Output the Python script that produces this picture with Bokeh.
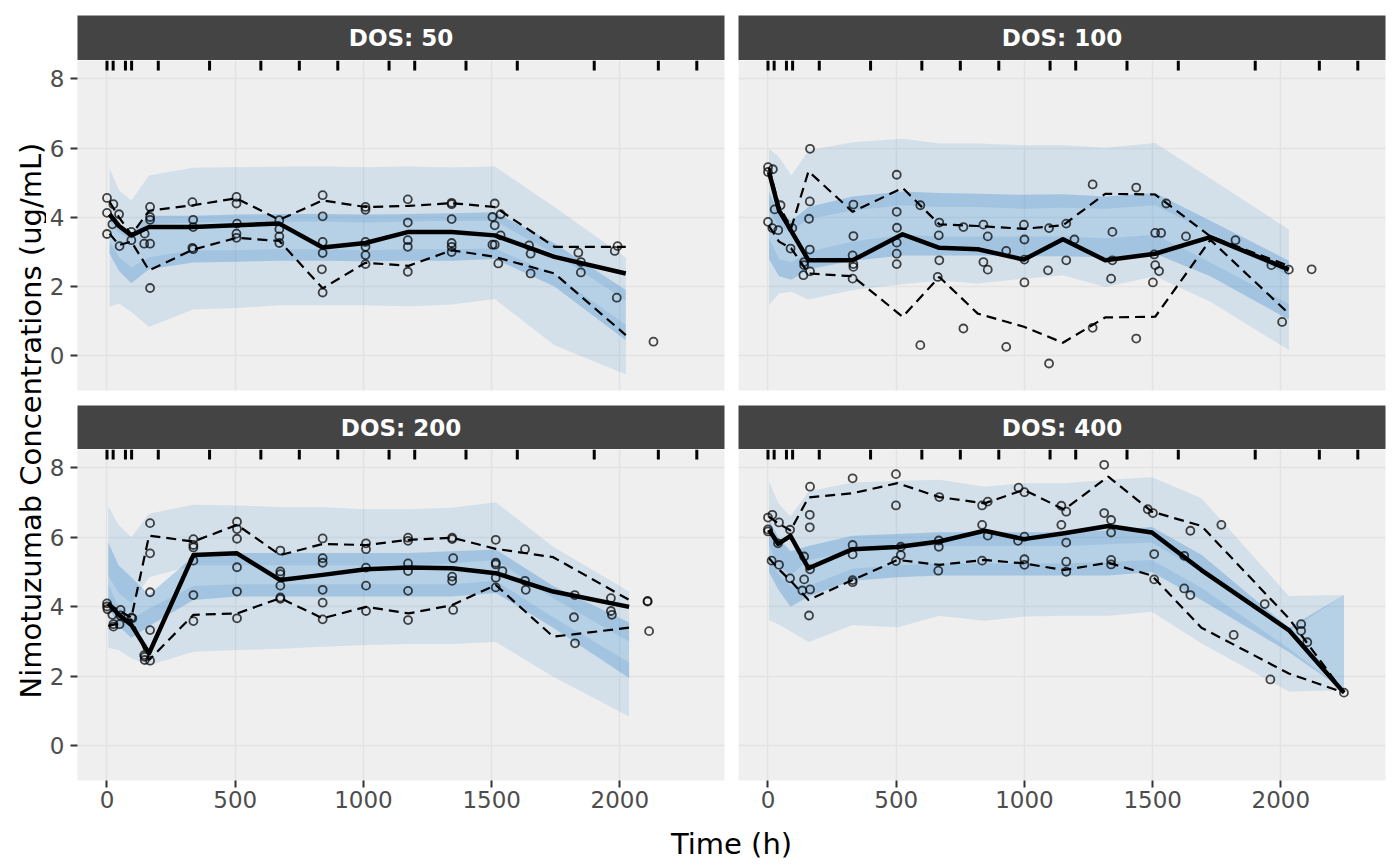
from math import pi
from bokeh.plotting import figure
from bokeh.layouts import row, column
from bokeh.models import Range1d, FixedTicker, Grid
from bokeh.embed import file_html
from bokeh.resources import INLINE
from bokeh.core.properties import value

FONT = "DejaVu Sans"

# ---------------- data ----------------
panel_labels = ["DOS: 50", "DOS: 100", "DOS: 200", "DOS: 400"]
x_ticks = [0, 500, 1000, 1500, 2000]
y_ticks = [0, 2, 4, 6, 8]
rug_times = [0, 24, 72, 96, 200, 400, 600, 750, 900, 1100, 1200, 1400, 1600, 1900, 2150, 2300]

# DOS 50
obs_t_50 = [0, 0, 0, 25, 21, 47, 49, 95, 95, 145, 168, 147, 168, 168, 168, 168, 333, 336, 336, 333, 336,
            505, 505, 507, 505, 505, 672, 672, 672, 672, 841, 841, 841, 841, 838, 841,
            1008, 1008, 1008, 1008, 1008, 1008, 1173, 1173, 1173, 1173, 1173,
            1344, 1344, 1344, 1344, 1344, 1344, 1512, 1503, 1535, 1512, 1535, 1512, 1503, 1526,
            1646, 1652, 1652, 1838, 1848, 1848, 1991, 1980, 1988, 2131]
obs_c_50 = [4.56, 4.13, 3.52, 4.38, 3.80, 4.09, 3.17, 3.58, 3.34, 3.24, 3.24, 3.53, 4.30, 4.01, 3.93, 1.96, 4.44, 3.93, 3.72, 3.12, 3.08,
            4.59, 4.40, 3.82, 3.53, 3.41, 3.92, 3.66, 3.45, 3.26, 4.64, 4.03, 3.29, 2.97, 2.50, 1.83,
            4.30, 4.22, 3.29, 3.15, 2.91, 2.65, 4.52, 3.85, 3.34, 3.15, 2.43,
            4.42, 4.38, 3.95, 3.26, 3.15, 3.00, 4.40, 4.01, 4.09, 3.77, 3.48, 3.21, 3.21, 2.67,
            3.19, 2.95, 2.38, 2.98, 2.71, 2.41, 3.17, 3.03, 1.68, 0.41]
bin_t_50 = [10, 47, 95, 164, 336, 505, 672, 841, 1008, 1176, 1344, 1512, 1745, 2023]
obs_med_50 = [4.09, 3.75, 3.48, 3.72, 3.72, 3.77, 3.82, 3.13, 3.26, 3.58, 3.58, 3.48, 2.86, 2.38]
obs_p95_50 = [4.45, 4.0, 3.5, 4.19, 4.35, 4.55, 3.93, 4.49, 4.30, 4.33, 4.41, 4.30, 3.15, 3.15]
obs_p05_50 = [3.53, 3.2, 3.3, 2.47, 3.07, 3.41, 3.32, 1.95, 2.69, 2.6, 3.05, 2.86, 2.38, 0.60]
pi95_hi_50 = [5.41, 4.78, 4.49, 5.21, 5.43, 5.45, 5.46, 5.47, 5.45, 5.47, 5.44, 5.47, 4.30, 2.84]
pi95_lo_50 = [3.9, 3.55, 3.35, 3.8, 3.85, 3.87, 3.87, 3.88, 3.85, 3.88, 3.9, 3.9, 2.95, 1.6]
med_hi_50 = [4.15, 3.8, 3.55, 4.05, 4.05, 4.08, 4.1, 4.1, 4.08, 4.1, 4.12, 4.15, 3.25, 1.9]
med_lo_50 = [2.95, 2.45, 2.1, 2.5, 2.7, 2.72, 2.75, 2.75, 2.73, 2.75, 2.75, 2.8, 2.0, 0.45]
pi05_hi_50 = [3.3, 2.85, 2.55, 2.85, 3.05, 3.05, 3.08, 3.08, 3.05, 3.08, 3.08, 3.1, 2.35, 0.9]
pi05_lo_50 = [1.42, 1.51, 1.27, 0.84, 1.34, 1.38, 1.46, 1.46, 1.46, 1.43, 1.48, 1.64, 0.31, -0.53]

# DOS 100
obs_t_100 = [0, 0, 19, 0, 17, 40, 26, 49, 95, 88, 164, 163, 160, 163, 141, 141, 164, 138,
             333, 333, 330, 333, 333, 330, 502, 502, 503, 502, 502, 502, 594, 594,
             668, 666, 668, 662, 762, 762, 840, 857, 840, 857, 929, 929,
             998, 1000, 1000, 1000, 1096, 1092, 1096, 1163, 1163, 1195, 1266, 1266,
             1343, 1343, 1338, 1436, 1436, 1510, 1533, 1506, 1510, 1525, 1501, 1553, 1630,
             1823, 1963, 2005, 2031, 2120]
obs_c_100 = [5.45, 5.31, 5.39, 3.87, 3.69, 3.63, 4.23, 4.35, 3.69, 3.10, 5.98, 4.46, 3.96, 3.07, 2.71, 2.62, 2.44, 2.33,
             4.37, 3.46, 2.90, 2.65, 2.57, 2.23, 5.23, 4.16, 3.70, 3.27, 2.95, 2.65, 0.31, 4.35,
             3.85, 3.48, 2.76, 2.28, 3.72, 0.79, 3.79, 3.45, 2.71, 2.49, 3.03, 0.26,
             3.79, 3.36, 2.78, 2.12, 3.69, 2.47, -0.22, 3.82, 2.76, 3.36, 4.95, 0.81,
             3.58, 2.76, 2.23, 4.86, 0.50, 3.55, 3.55, 2.93, 2.62, 2.45, 2.12, 4.40, 3.45,
             3.34, 2.62, 0.98, 2.49, 2.50]
bin_t_100 = [4, 43, 91, 158, 330, 525, 668, 818, 998, 1150, 1315, 1510, 1725, 2031]
obs_med_100 = [5.31, 4.20, 3.6, 2.76, 2.76, 3.51, 3.12, 3.08, 2.78, 3.37, 2.76, 2.95, 3.43, 2.49]
obs_p95_100 = [5.43, 4.33, 3.7, 5.33, 4.16, 4.85, 3.80, 3.75, 3.67, 3.77, 4.68, 4.66, 3.45, 2.6]
obs_p05_100 = [3.75, 3.3, 3.1, 2.38, 2.30, 1.13, 2.28, 1.22, 0.84, 0.38, 1.11, 1.13, 3.35, 1.22]
pi95_hi_100 = [5.98, 5.74, 5.21, 5.93, 6.17, 6.27, 6.13, 6.13, 6.08, 6.08, 6.01, 6.15, 5.12, 3.65]
pi95_lo_100 = [4.2, 3.7, 3.6, 3.95, 4.2, 4.35, 4.3, 4.3, 4.25, 4.28, 4.25, 4.35, 3.55, 2.3]
med_hi_100 = [4.75, 4.1, 3.9, 4.3, 4.6, 4.75, 4.7, 4.68, 4.65, 4.67, 4.6, 4.7, 3.9, 2.75]
med_lo_100 = [2.8, 2.3, 2.2, 2.5, 2.75, 2.9, 2.9, 2.9, 2.88, 2.88, 2.85, 2.95, 2.3, 1.05]
pi05_hi_100 = [3.4, 2.8, 2.7, 3.0, 3.3, 3.5, 3.45, 3.45, 3.45, 3.45, 3.4, 3.5, 2.7, 1.5]
pi05_lo_100 = [1.46, 1.80, 1.85, 1.63, 1.90, 2.07, 2.18, 2.09, 2.23, 2.33, 1.99, 2.30, 1.56, 0.17]

# DOS 200
obs_t_200 = [0, 0, 2, 21, 25, 25, 49, 53, 53, 95, 99, 168, 168, 168, 168, 145, 147, 147, 168,
             337, 337, 337, 337, 337, 337, 507, 507, 507, 507, 507, 507,
             676, 676, 676, 676, 676, 676, 841, 841, 841, 841, 841, 841,
             1010, 1010, 1010, 1010, 1010, 1174, 1174, 1174, 1174, 1174, 1174,
             1346, 1346, 1350, 1346, 1346, 1350, 1516, 1516, 1516, 1542, 1516, 1516,
             1630, 1630, 1633, 1824, 1821, 1825, 1965, 1965, 1969, 2108, 2108, 2114]
obs_c_200 = [4.10, 4.01, 3.93, 3.77, 3.50, 3.43, 3.50, 3.91, 3.75, 3.69, 3.67, 6.41, 5.54, 4.42, 3.33, 2.61, 2.56, 2.47, 2.45,
             5.95, 5.78, 5.71, 5.33, 4.34, 3.59, 6.45, 6.24, 5.96, 5.14, 4.44, 3.67,
             5.62, 5.02, 4.94, 4.61, 4.27, 4.23, 5.97, 5.40, 5.27, 4.49, 4.12, 3.64,
             5.83, 5.66, 5.13, 4.61, 3.88, 5.99, 5.90, 5.25, 5.03, 4.46, 3.62,
             5.99, 5.95, 5.40, 4.87, 4.75, 3.91, 5.93, 5.27, 5.22, 5.03, 4.84, 4.56,
             5.66, 4.75, 4.49, 4.34, 3.70, 2.95, 4.25, 3.88, 3.77, 4.17, 4.15, 3.30]
bin_t_200 = [5, 45, 95, 164, 337, 507, 676, 841, 1010, 1176, 1346, 1516, 1740, 2036]
obs_med_200 = [4.10, 3.78, 3.48, 2.66, 5.49, 5.54, 4.77, 4.92, 5.08, 5.13, 5.11, 4.97, 4.44, 4.0]
obs_p95_200 = [4.08, 3.9, 3.69, 6.05, 5.88, 6.36, 5.49, 5.81, 5.78, 5.93, 5.99, 5.67, 5.43, 4.2]
obs_p05_200 = [3.45, 3.52, 3.64, 2.47, 3.77, 3.81, 4.25, 3.67, 4.0, 3.81, 4.05, 4.63, 3.14, 3.40]
pi95_hi_200 = [6.89, 6.36, 6.0, 6.68, 6.94, 6.92, 6.87, 6.87, 6.81, 6.81, 6.85, 7.01, 5.73, 4.44]
pi95_lo_200 = [4.9, 4.4, 4.1, 4.85, 5.2, 5.2, 5.2, 5.2, 5.2, 5.2, 5.25, 5.35, 4.25, 3.0]
med_hi_200 = [5.85, 5.2, 4.85, 4.35, 5.45, 5.55, 5.55, 5.55, 5.55, 5.55, 5.6, 5.65, 4.6, 3.55]
med_lo_200 = [4.0, 3.45, 3.1, 3.45, 4.2, 4.3, 4.3, 4.3, 4.3, 4.3, 4.3, 4.4, 3.4, 1.95]
pi05_hi_200 = [4.65, 4.0, 3.65, 3.95, 4.6, 4.65, 4.65, 4.65, 4.65, 4.65, 4.65, 4.75, 3.7, 2.4]
pi05_lo_200 = [2.82, 2.76, 2.52, 2.32, 2.71, 2.76, 2.79, 2.85, 2.9, 2.93, 2.93, 2.99, 1.99, 0.84]

# DOS 400
obs_t_400 = [0, 17, 43, 0, 0, 39, 14, 43, 86, 86, 164, 163, 163, 141, 164, 141, 134, 164, 160,
             330, 330, 330, 330, 330, 499, 499, 518, 518, 499, 668, 666, 666, 664,
             835, 857, 835, 857, 835, 977, 1000, 975, 1000, 1000, 1000,
             1144, 1144, 1163, 1163, 1163, 1163, 1311, 1311, 1338, 1338, 1338, 1338,
             1481, 1501, 1506, 1506, 1647, 1768, 1623, 1623, 1647, 1816, 1937, 1959,
             2079, 2079, 2103, 2246]
obs_c_400 = [6.57, 6.65, 6.43, 6.23, 6.17, 5.83, 5.33, 5.21, 6.22, 4.82, 7.46, 6.65, 6.29, 5.45, 5.08, 4.79, 4.47, 4.50, 3.75,
             7.70, 5.78, 5.51, 4.77, 4.71, 7.82, 6.92, 5.73, 5.49, 5.32, 7.16, 5.91, 5.73, 5.04,
             6.92, 7.03, 6.36, 6.05, 5.33, 7.43, 7.30, 5.90, 6.02, 5.37, 5.21,
             6.91, 6.36, 6.74, 5.85, 5.30, 5.01, 8.09, 6.70, 6.50, 6.14, 5.35, 5.22,
             6.81, 6.70, 5.52, 4.79, 6.19, 6.36, 5.47, 4.53, 4.34, 3.19, 4.08, 1.91,
             3.50, 3.31, 2.98, 1.53]
bin_t_400 = [4, 40, 88, 158, 330, 505, 668, 844, 998, 1155, 1327, 1497, 1690, 2031, 2246]
obs_med_400 = [6.22, 5.81, 6.04, 5.11, 5.66, 5.72, 5.88, 6.19, 5.95, 6.12, 6.33, 6.14, 5.06, 3.33, 1.53]
obs_p95_400 = [6.6, 6.4, 6.2, 7.15, 7.27, 7.56, 7.16, 6.98, 7.37, 6.8, 7.75, 6.74, 6.33, 3.67, 1.53]
obs_p05_400 = [5.4, 5.1, 4.75, 4.2, 4.77, 5.35, 5.21, 5.35, 5.25, 5.06, 5.27, 4.9, 3.4, 2.08, 1.53]
pi95_hi_400 = [7.61, 6.98, 6.60, 7.32, 7.58, 7.62, 7.66, 7.46, 7.56, 7.56, 7.66, 7.73, 7.13, 4.31, 4.34]
pi95_lo_400 = [5.75, 5.2, 4.9, 5.35, 5.6, 5.7, 5.75, 5.75, 5.75, 5.75, 5.8, 5.85, 5.0, 3.3, 4.34]
med_hi_400 = [6.5, 6.0, 5.6, 5.75, 6.05, 6.1, 6.15, 6.15, 6.15, 6.15, 6.2, 6.3, 5.5, 3.4, 4.34]
med_lo_400 = [5.0, 4.5, 4.0, 4.3, 4.75, 4.85, 4.9, 4.9, 4.9, 4.9, 4.9, 5.0, 4.2, 2.7, 1.6]
pi05_hi_400 = [5.45, 4.95, 4.6, 4.6, 5.1, 5.2, 5.25, 5.25, 5.25, 5.25, 5.3, 5.35, 4.55, 2.8, 1.6]
pi05_lo_400 = [3.62, 3.5, 3.3, 2.99, 3.48, 3.41, 3.74, 3.6, 3.72, 3.74, 3.74, 3.86, 2.95, 1.56, 1.6]

panels = [
    dict(label=panel_labels[0], t=obs_t_50, c=obs_c_50, bt=bin_t_50, med=obs_med_50, p95=obs_p95_50, p05=obs_p05_50,
         a_hi=pi95_hi_50, a_lo=pi95_lo_50, m_hi=med_hi_50, m_lo=med_lo_50, b_hi=pi05_hi_50, b_lo=pi05_lo_50),
    dict(label=panel_labels[1], t=obs_t_100, c=obs_c_100, bt=bin_t_100, med=obs_med_100, p95=obs_p95_100, p05=obs_p05_100,
         a_hi=pi95_hi_100, a_lo=pi95_lo_100, m_hi=med_hi_100, m_lo=med_lo_100, b_hi=pi05_hi_100, b_lo=pi05_lo_100),
    dict(label=panel_labels[2], t=obs_t_200, c=obs_c_200, bt=bin_t_200, med=obs_med_200, p95=obs_p95_200, p05=obs_p05_200,
         a_hi=pi95_hi_200, a_lo=pi95_lo_200, m_hi=med_hi_200, m_lo=med_lo_200, b_hi=pi05_hi_200, b_lo=pi05_lo_200),
    dict(label=panel_labels[3], t=obs_t_400, c=obs_c_400, bt=bin_t_400, med=obs_med_400, p95=obs_p95_400, p05=obs_p05_400,
         a_hi=pi95_hi_400, a_lo=pi95_lo_400, m_hi=med_hi_400, m_lo=med_lo_400, b_hi=pi05_hi_400, b_lo=pi05_lo_400),
]

# ---------------- styling / layout ----------------
X_LO, X_HI = -115, 2408
Y_LO, Y_HI = -1.0, 8.53
FRAME_W = 647
BAND = "#3388cc"


def clean_grids(p):
    p.center = [r for r in p.center if not isinstance(r, Grid)]


def style_axis(ax, standoff):
    ax.axis_line_color = None
    ax.major_tick_line_color = "#333333"
    ax.major_tick_line_width = 2
    ax.major_tick_out = 7
    ax.major_tick_in = 0
    ax.minor_tick_line_color = None
    ax.major_label_text_font = FONT
    ax.major_label_text_font_size = "23px"
    ax.major_label_text_color = "#4d4d4d"
    ax.major_label_standoff = standoff


def make_panel(d, has_x, has_y, frame_h, lb, rb, bb):
    p = figure(frame_width=FRAME_W, frame_height=frame_h,
               x_range=Range1d(X_LO, X_HI), y_range=Range1d(Y_LO, Y_HI),
               x_axis_location="below" if has_x else None,
               y_axis_location="left" if has_y else None,
               toolbar_location=None, output_backend="svg",
               min_border_left=lb, min_border_right=rb, min_border_top=0, min_border_bottom=bb,
               background_fill_color="#efefef", border_fill_color="white", outline_line_color=None)
    clean_grids(p)
    p.add_layout(Grid(dimension=0, ticker=FixedTicker(ticks=x_ticks), grid_line_color="#e3e3e3", grid_line_width=1.6))
    p.add_layout(Grid(dimension=1, ticker=FixedTicker(ticks=y_ticks), grid_line_color="#e3e3e3", grid_line_width=1.6))
    if has_x:
        ax = p.xaxis[0]
        ax.ticker = FixedTicker(ticks=x_ticks)
        style_axis(ax, 3)
    if has_y:
        ay = p.yaxis[0]
        ay.ticker = FixedTicker(ticks=y_ticks)
        style_axis(ay, 6)

    p.varea(x=d["bt"], y1=d["a_lo"], y2=d["a_hi"], fill_color=BAND, fill_alpha=0.15)
    p.varea(x=d["bt"], y1=d["b_lo"], y2=d["b_hi"], fill_color=BAND, fill_alpha=0.15)
    p.varea(x=d["bt"], y1=d["m_lo"], y2=d["m_hi"], fill_color=BAND, fill_alpha=0.3)

    p.scatter(d["t"], d["c"], marker="circle", size=8, fill_color=None,
              line_color="black", line_alpha=0.72, line_width=1.8)

    p.line(d["bt"], d["p95"], line_color="black", line_width=2.2, line_dash="10 6")
    p.line(d["bt"], d["p05"], line_color="black", line_width=2.2, line_dash="10 6")
    p.line(d["bt"], d["med"], line_color="black", line_width=4.5, line_join="round")

    tick_len = 10 * (Y_HI - Y_LO) / frame_h
    p.segment(x0=rug_times, y0=[Y_HI] * len(rug_times), x1=rug_times,
              y1=[Y_HI - tick_len] * len(rug_times), line_color="black", line_width=3)
    return p


def make_strip(label, lb, rb, tb, fh):
    s = figure(frame_width=FRAME_W, frame_height=fh, x_range=Range1d(0, 1), y_range=Range1d(0, 1),
               x_axis_location=None, y_axis_location=None, toolbar_location=None, output_backend="svg",
               min_border_left=lb, min_border_right=rb, min_border_top=tb, min_border_bottom=0,
               background_fill_color="#444444", border_fill_color="white", outline_line_color=None)
    clean_grids(s)
    s.text(x=[0.5], y=[0.5], text=[label], text_align="center", text_baseline="middle",
           text_color="white", text_font_style="bold", text_font_size="23px", text_font=value(FONT))
    return s


YL_W = 46
LB_L, RB_L = 31, 7
LB_R, RB_R = 7, 3
TOTAL_H = 862
XL_TOP = 820
TOTAL_W = YL_W + LB_L + FRAME_W + RB_L + LB_R + FRAME_W + RB_R

s_tl = make_strip(panels[0]["label"], LB_L, RB_L, 15, 45)
s_tr = make_strip(panels[1]["label"], LB_R, RB_R, 15, 45)
p_tl = make_panel(panels[0], False, True, 330, LB_L, RB_L, 15)
p_tr = make_panel(panels[1], False, False, 330, LB_R, RB_R, 15)
s_bl = make_strip(panels[2]["label"], LB_L, RB_L, 0, 44)
s_br = make_strip(panels[3]["label"], LB_R, RB_R, 0, 44)
p_bl = make_panel(panels[2], True, True, 331, LB_L, RB_L, 40)
p_br = make_panel(panels[3], True, False, 331, LB_R, RB_R, 40)

# x-axis title
xl = figure(frame_width=TOTAL_W - YL_W, frame_height=TOTAL_H - XL_TOP,
            x_range=Range1d(YL_W, TOTAL_W), y_range=Range1d(TOTAL_H, XL_TOP),
            x_axis_location=None, y_axis_location=None, toolbar_location=None, output_backend="svg",
            min_border_left=0, min_border_right=0, min_border_top=0, min_border_bottom=0,
            background_fill_color="white", border_fill_color="white", outline_line_color=None)
clean_grids(xl)
xl.text(x=[731], y=[843], text=["Time (h)"], text_align="center", text_baseline="middle",
        text_color="black", text_font_size="29px", text_font=value(FONT))

# y-axis title
yl = figure(frame_width=YL_W, frame_height=TOTAL_H, x_range=Range1d(0, YL_W), y_range=Range1d(TOTAL_H, 0),
            x_axis_location=None, y_axis_location=None, toolbar_location=None, output_backend="svg",
            min_border_left=0, min_border_right=0, min_border_top=0, min_border_bottom=0,
            background_fill_color="white", border_fill_color="white", outline_line_color=None)
clean_grids(yl)
yl.text(x=[30], y=[420], text=["Nimotuzumab Concentrations (ug/mL)"], angle=pi / 2,
        text_align="center", text_baseline="middle", text_color="black",
        text_font_size="29px", text_font=value(FONT))

layout = row(yl, column(row(s_tl, s_tr), row(p_tl, p_tr), row(s_bl, s_br), row(p_bl, p_br), xl))

open("out.html", "w").write(file_html(layout, INLINE))
